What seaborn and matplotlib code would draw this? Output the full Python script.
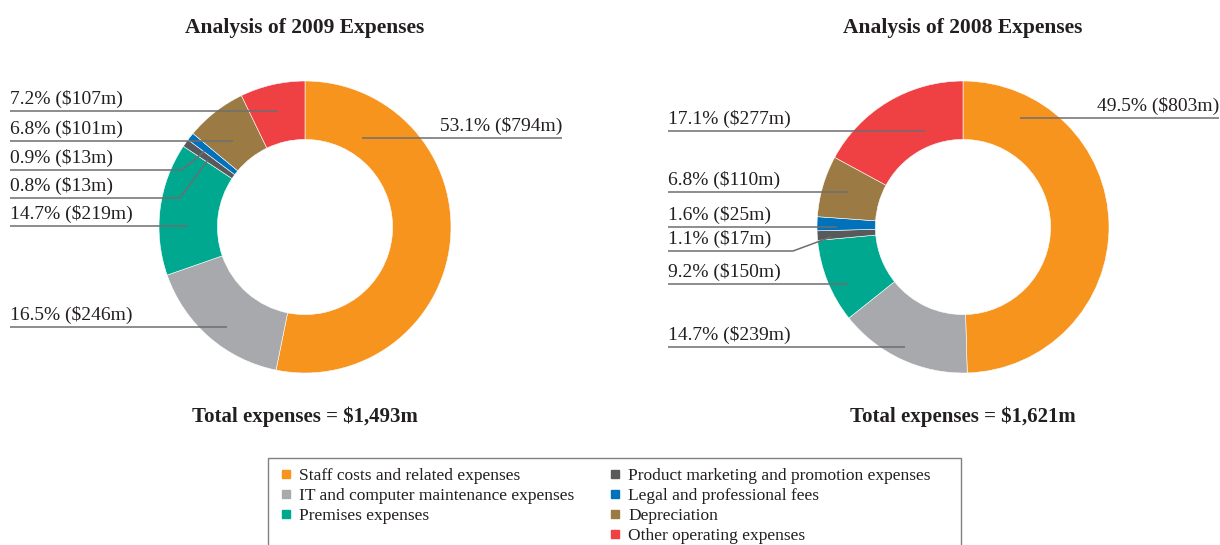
import matplotlib
matplotlib.use("Agg")
import matplotlib.pyplot as plt
from matplotlib.lines import Line2D
from matplotlib.patches import Rectangle
import seaborn as sns

# Data
categories = [
    "Staff costs and related expenses",
    "IT and computer maintenance expenses",
    "Premises expenses",
    "Product marketing and promotion expenses",
    "Legal and professional fees",
    "Depreciation",
    "Other operating expenses",
]
values_2009 = [794, 246, 219, 13, 13, 101, 107]
pct_2009 = [53.1, 16.5, 14.7, 0.8, 0.9, 6.8, 7.2]
values_2008 = [803, 239, 150, 17, 25, 110, 277]
pct_2008 = [49.5, 14.7, 9.2, 1.1, 1.6, 6.8, 17.1]
totals = ["$1,493m", "$1,621m"]
years = ["2009", "2008"]

colors = ["#F7941E", "#A7A9AC", "#00A88F", "#58595B", "#0072BC", "#9B7B43", "#EF4044"]

# Label layout in pixels: (line y, line start x, line end x, elbow end or None)
layout_2009 = [
    (138, 362, 562, None),
    (327, 10, 227, None),
    (226, 10, 188, None),
    (198, 10, 180, (208, 160)),
    (170, 10, 182, (205, 151)),
    (141, 10, 233, None),
    (111, 10, 278, None),
]
layout_2008 = [
    (118, 1020, 1219, None),
    (347, 668, 905, None),
    (284, 668, 848, None),
    (251, 668, 793, (831, 237)),
    (227, 668, 837, None),
    (192, 668, 848, None),
    (131, 668, 925, None),
]

sns.set_theme(style="white")
plt.rcParams["font.family"] = ["Liberation Serif", "DejaVu Serif"]

W, H = 1220, 545
fig = plt.figure(figsize=(W / 100, H / 100), dpi=100)
palette = sns.color_palette(colors)

R = 146
centers = [(305, 227), (963, 227)]
for (cx, cy), vals in zip(centers, [values_2009, values_2008]):
    ax = fig.add_axes([(cx - R) / W, (H - cy - R) / H, 2 * R / W, 2 * R / H])
    ax.pie(vals, colors=palette, startangle=90, counterclock=False,
           wedgeprops=dict(width=0.4, edgecolor="white", linewidth=0.4))
    ax.set_xlim(-1, 1)
    ax.set_ylim(-1, 1)
    ax.set_aspect("equal")

# overlay in pixel coordinates for text and leader lines
ov = fig.add_axes([0, 0, 1, 1])
ov.set_xlim(0, W)
ov.set_ylim(H, 0)
ov.axis("off")

line_color = "#6D6E71"
text_color = "#231F20"
for pcts, vals, layout in [(pct_2009, values_2009, layout_2009), (pct_2008, values_2008, layout_2008)]:
    for i, (p, v) in enumerate(zip(pcts, vals)):
        y, x0, x1, elbow = layout[i]
        xs, ys = [x0, x1], [y, y]
        if elbow is not None:
            xs.append(elbow[0])
            ys.append(elbow[1])
        ov.plot(xs, ys, color=line_color, lw=1.1, solid_capstyle="butt")
        label = f"{p}% (${v}m)"
        if i == 0:
            ov.text(x1, y - 3, label, ha="right", va="bottom", fontsize=14, color=text_color)
        else:
            ov.text(x0, y - 3, label, ha="left", va="bottom", fontsize=14, color=text_color)

for (cx, cy), yr, tot in zip(centers, years, totals):
    ov.text(cx, 28, f"Analysis of {yr} Expenses", ha="center", va="center",
            fontsize=15.5, fontweight="bold", color=text_color)
    ov.text(cx, 417, f"Total expenses = {tot}", ha="center", va="center",
            fontsize=15, fontweight="bold", color=text_color)

# legend box (cut off at the bottom like the original)
ov.add_patch(Rectangle((268, 458), 693, 95, fill=False, edgecolor="#808080", lw=1.0))

# Legend: 3 items in first column, 4 in second
handles = [Line2D([], [], marker="s", linestyle="none", markersize=5.5,
                  markerfacecolor=c, markeredgecolor=c) for c in colors]
labels = list(categories)
handles.insert(3, Line2D([], [], linestyle="none"))
labels.insert(3, "")
leg = fig.legend(handles, labels, ncol=2, loc="upper left",
                 bbox_to_anchor=(268 / W, 1 - 456 / H), frameon=False,
                 fontsize=12.5, handlelength=0.7, handletextpad=0.4, labelspacing=0.22,
                 columnspacing=2.0, borderpad=0.7, borderaxespad=0)
for t in leg.get_texts():
    t.set_color(text_color)

plt.savefig("out.png", dpi=100)
plt.close()
